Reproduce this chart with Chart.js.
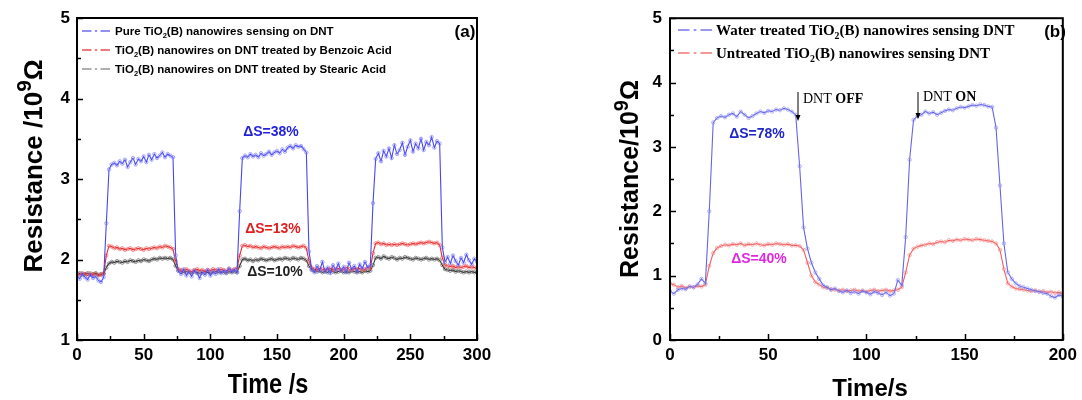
<!DOCTYPE html>
<html>
<head>
<meta charset="utf-8">
<script src="https://cdn.jsdelivr.net/npm/chart.js@4.4.1/dist/chart.umd.min.js"></script>
<style>
  body { margin: 0; background: #fff; }
  canvas { position: absolute; top: 0; }
  #chartA { left: 0; }
  #chartB { left: 560px; }
</style>
</head>
<body>
<canvas id="chartA" width="500" height="400"></canvas>
<canvas id="chartB" width="522" height="400"></canvas>
<script>
// ---- panel (a): time axis, 2 s samples
const timeA = [
  0,2,4,6,8,10,12,14,16,18,20,22,24,26,28,30,32,34,36,38,40,42,44,46,48,
  50,52,54,56,58,60,62,64,66,68,70,72,74,76,78,80,82,84,86,88,90,92,94,96,98,
  100,102,104,106,108,110,112,114,116,118,120,122,124,126,128,130,132,134,136,138,140,142,144,146,148,
  150,152,154,156,158,160,162,164,166,168,170,172,174,176,178,180,182,184,186,188,190,192,194,196,198,
  200,202,204,206,208,210,212,214,216,218,220,222,224,226,228,230,232,234,236,238,240,242,244,246,248,
  250,252,254,256,258,260,262,264,266,268,270,272,274,276,278,280,282,284,286,288,290,292,294,296,298,
  300
];

// pure TiO2(B)
const pureA = [
  1.80,1.76,1.82,1.78,1.75,1.81,1.77,1.79,1.74,1.72,1.78,
  2.45,
  3.12,3.18,3.20,3.17,3.22, 3.19,3.24,3.15,3.21,3.26, 3.18,3.25,3.22,3.28,3.21, 3.30,3.24,3.31,3.26,3.29, 3.33,3.27,3.31,3.29,3.27,
  2.05,
  1.86,1.82,1.88,1.80,1.85, 1.79,1.86,1.83,1.77,1.84, 1.81,1.87,1.80,1.85,1.82, 1.88,1.83,1.86,1.84,1.89, 1.85,1.87,1.84,
  2.60,
  3.26,3.29,3.27,3.31,3.28, 3.30,3.27,3.32,3.29,3.31, 3.34,3.30,3.33,3.35,3.32, 3.37,3.34,3.39,3.41,3.38, 3.42,3.40,3.41,3.37,3.33,
  2.10,
  1.88,1.84,1.92,1.86,1.97, 1.85,1.90,1.83,1.93,1.87, 1.95,1.86,1.91,1.84,1.96, 1.88,1.92,1.85,1.94,1.89, 1.97,1.90,1.93,
  2.70,
  3.25,3.32,3.22,3.35,3.28, 3.38,3.26,3.42,3.31,3.36, 3.45,3.30,3.40,3.48,3.34, 3.44,3.38,3.50,3.36,3.46, 3.42,3.52,3.39,3.47,3.44,
  2.15,
  1.97,2.03,1.95,2.05,1.98, 1.93,2.02,1.96,2.06,1.99, 1.94,2.01,1.97
];

// benzoic acid treated
const benzoicA = [
  1.82,1.81,1.83,1.82,1.80,1.83,1.81,1.82,1.80,1.81,1.83,
  2.05,
  2.17,2.16,2.14,2.15,2.13, 2.14,2.12,2.13,2.14,2.12, 2.13,2.14,2.13,2.12,2.14, 2.13,2.14,2.15,2.14,2.16, 2.15,2.17,2.16,2.15,2.13,
  1.98,
  1.88,1.87,1.86,1.88,1.86, 1.85,1.87,1.88,1.86,1.87, 1.85,1.87,1.86,1.88,1.87, 1.86,1.88,1.87,1.86,1.88, 1.87,1.88,1.89,
  2.05,
  2.17,2.18,2.16,2.17,2.15, 2.16,2.15,2.14,2.16,2.15, 2.14,2.15,2.16,2.15,2.14, 2.16,2.15,2.16,2.15,2.17, 2.16,2.15,2.16,2.17,2.14,
  1.98,
  1.90,1.88,1.87,1.89,1.88, 1.87,1.88,1.89,1.87,1.88, 1.89,1.87,1.88,1.90,1.88, 1.87,1.89,1.88,1.89,1.87, 1.88,1.90,1.89,
  2.08,
  2.20,2.21,2.19,2.20,2.18, 2.19,2.18,2.19,2.18,2.19, 2.20,2.19,2.18,2.19,2.20, 2.19,2.20,2.21,2.20,2.21, 2.22,2.21,2.20,2.21,2.18,
  2.02,
  1.93,1.92,1.91,1.92,1.90, 1.91,1.90,1.91,1.92,1.90, 1.91,1.90,1.89
];

// stearic acid treated
const stearicA = [
  1.82,1.83,1.81,1.82,1.83,1.81,1.82,1.83,1.81,1.82,1.82,
  1.90,
  1.95,1.97,1.96,1.98,1.97, 1.96,1.98,1.97,1.99,1.98, 1.97,1.99,1.98,2.00,1.99, 1.98,2.00,2.01,2.00,2.02, 2.01,2.02,2.01,2.02,2.00,
  1.92,
  1.86,1.85,1.84,1.85,1.84, 1.83,1.85,1.84,1.83,1.84, 1.85,1.84,1.83,1.84,1.85, 1.84,1.85,1.84,1.83,1.85, 1.84,1.85,1.84,
  1.92,
  2.00,2.01,1.99,2.00,1.98, 2.00,1.99,2.01,2.00,1.99, 2.00,2.01,1.99,2.00,2.01, 2.00,2.02,2.01,2.00,2.02, 2.01,2.00,2.02,2.01,1.99,
  1.92,
  1.87,1.86,1.85,1.86,1.84, 1.85,1.84,1.86,1.85,1.84, 1.85,1.86,1.84,1.85,1.84, 1.86,1.85,1.84,1.85,1.84, 1.86,1.85,1.86,
  1.93,
  2.02,2.03,2.01,2.04,2.02, 2.01,2.03,2.02,2.00,2.02, 2.01,2.03,2.02,2.01,2.00, 2.02,2.01,2.00,2.01,2.02, 2.00,2.01,2.00,2.01,1.99,
  1.93,
  1.88,1.87,1.86,1.87,1.85, 1.86,1.85,1.84,1.85,1.84, 1.85,1.84,1.84
];

// ---- panel (b)
const timeB = [
  0,2,4,6,8,10,12,14,16,18,20,22,24,26,28,30,32,34,36,38,40,42,44,46,48,
  50,52,54,56,58,60,62,64,66,68,70,72,74,76,78,80,82,84,86,88,90,92,94,96,98,
  100,102,104,106,108,110,112,114,116,118,120,122,124,126,128,130,132,134,136,138,140,142,144,146,148,
  150,152,154,156,158,160,162,164,166,168,170,172,174,176,178,180,182,184,186,188,190,192,194,196,198,
  200
];

const waterB = [
  0.76,0.72,0.78,0.80,0.79,0.83,0.82,0.86,0.95,
  0.88,
  2.00,3.38,
  3.45,3.48,3.46,3.50,3.52, 3.47,3.55,3.50,3.45,3.48, 3.52,3.55,3.53,3.56,3.55, 3.58,3.57,3.60,3.58,3.55,
  3.50,2.70,1.75,1.42,1.20,1.05,0.95,
  0.85,0.82,0.78,0.80,0.76, 0.74,0.77,0.73,0.75,0.72, 0.76,0.74,0.71,0.75,0.73, 0.70,0.74,0.69,
  0.72,
  0.93,0.85,1.60,2.80,3.42,
  3.48,3.50,3.55,3.52,3.54, 3.50,3.53,3.56,3.58,3.57, 3.60,3.62,3.61,3.63,3.65, 3.64,3.66,3.65,3.63,
  3.62,
  3.30,2.40,1.50,1.05,0.95,0.88,
  0.84,0.82,0.80,0.78,0.76, 0.75,0.73,0.72,0.68,0.66, 0.70,0.68
];

const untreatedB = [
  0.88,0.86,0.82,0.84,0.81,0.83,0.82,0.84,0.83,
  0.86,
  1.15,1.35,
  1.43,1.46,1.48,1.47,1.49, 1.48,1.50,1.47,1.49,1.48, 1.50,1.48,1.47,1.49,1.48, 1.50,1.49,1.48,1.49,1.47,
  1.47,1.46,1.40,1.20,1.00,0.90,0.86,
  0.82,0.81,0.79,0.78,0.77, 0.78,0.76,0.77,0.78,0.76, 0.77,0.75,0.77,0.78,0.76, 0.77,0.78,0.76,
  0.77,
  0.78,0.82,1.05,1.32,1.42,
  1.45,1.47,1.48,1.50,1.49, 1.52,1.53,1.52,1.55,1.54, 1.56,1.55,1.57,1.56,1.55, 1.57,1.56,1.55,1.54,
  1.53,
  1.50,1.40,1.10,0.88,0.83,0.80,
  0.79,0.78,0.77,0.76,0.77, 0.75,0.76,0.74,0.75,0.73, 0.74,0.72
];

const SANS = "'Liberation Sans', Arial, sans-serif";
const SERIF = "'Liberation Serif', 'Times New Roman', serif";
const tickFont = { family: SANS, size: 17, weight: 'bold' };

// draw text made of pieces (sub / sup / own weight), baseline at y
function rich(c, x, y, parts, o) {
  c.save();
  c.translate(x, y);
  c.scale(o.sx || 1, 1);
  c.fillStyle = o.color || '#000';
  c.textBaseline = 'alphabetic';
  c.textAlign = 'left';
  const fontOf = p => {
    let sz = o.size;
    if (p.sub || p.sup) sz = o.size * (p.k || 0.65);
    return (p.w || o.w || 'normal') + ' ' + sz + 'px ' + (o.family || SANS);
  };
  let cx = 0;
  if (o.align === 'center') {
    let tw = 0;
    for (const p of parts) { c.font = fontOf(p); tw += c.measureText(p.t).width; }
    cx = -tw / 2;
  }
  for (const p of parts) {
    c.font = fontOf(p);
    let dy = 0;
    if (p.sub) dy = o.size * 0.28;
    if (p.sup) dy = -o.size * 0.42;
    c.fillText(p.t, cx, dy);
    cx += c.measureText(p.t).width;
  }
  c.restore();
}

// dash-dot legend sample
function sample(c, x1, x2, y, color) {
  const w = x2 - x1;
  c.save();
  c.strokeStyle = color;
  c.lineWidth = 1.3;
  c.beginPath();
  c.moveTo(x1, y); c.lineTo(x1 + w * 0.34, y);
  c.moveTo(x1 + w * 0.46, y); c.lineTo(x1 + w * 0.54, y);
  c.moveTo(x1 + w * 0.66, y); c.lineTo(x2, y);
  c.stroke();
  c.restore();
}

function arrowDown(c, x, y1, y2) {
  c.save();
  c.strokeStyle = '#000'; c.fillStyle = '#000'; c.lineWidth = 1;
  c.beginPath(); c.moveTo(x, y1); c.lineTo(x, y2 - 4); c.stroke();
  c.beginPath(); c.moveTo(x - 2.5, y2 - 6); c.lineTo(x + 2.5, y2 - 6); c.lineTo(x, y2); c.closePath(); c.fill();
  c.restore();
}

// frame + inward ticks + extra texts
function deco(o) {
  return {
    id: 'deco',
    afterDraw(chart) {
      const c = chart.ctx, a = chart.chartArea;
      const xs = chart.scales.x, ys = chart.scales.y;
      c.save();
      c.strokeStyle = '#000';
      c.lineWidth = 1.5;
      c.beginPath();
      for (let v = xs.min; v <= xs.max; v += 25) {
        const px = Math.round(xs.getPixelForValue(v)) + 0.5;
        const len = v % 50 === 0 ? 6 : 4;
        c.moveTo(px, a.bottom); c.lineTo(px, a.bottom - len);
      }
      for (let v = ys.min; v <= ys.max; v += 0.5) {
        const py = Math.round(ys.getPixelForValue(v)) + 0.5;
        const len = v % 1 === 0 ? 6 : 4;
        c.moveTo(a.left, py); c.lineTo(a.left + len, py);
      }
      c.stroke();
      c.lineWidth = 2;
      c.strokeRect(a.left, a.top, a.right - a.left, a.bottom - a.top);
      c.restore();
      o.extra(c, a);
    }
  };
}

function makeChart(id, times, sets, o) {
  return new Chart(document.getElementById(id), {
    type: 'line',
    data: {
      datasets: sets.map(s => ({
        data: times.map((t, i) => ({ x: t, y: s.values[i] })),
        borderColor: s.line,
        borderWidth: 1.1,
        pointRadius: 1.7,
        pointBorderWidth: 0.8,
        pointBorderColor: s.mark,
        pointBackgroundColor: 'rgba(255,255,255,0)',
        tension: 0
      }))
    },
    options: {
      responsive: false,
      animation: false,
      layout: { padding: { top: 18, right: o.padRight, left: 0, bottom: 0 } },
      plugins: { legend: { display: false }, tooltip: { enabled: false } },
      scales: {
        x: {
          type: 'linear', min: 0, max: o.xMax,
          grid: { display: false, drawTicks: false },
          border: { display: false },
          ticks: { stepSize: 50, padding: 5, color: '#000', font: tickFont },
          afterFit: s => { s.height = 60; }
        },
        y: {
          min: o.yMin, max: 5,
          grid: { display: false, drawTicks: false },
          border: { display: false },
          ticks: { stepSize: 1, padding: o.yPad, color: '#000', font: tickFont },
          afterFit: s => { s.width = o.yWidth; }
        }
      }
    },
    plugins: [deco(o)]
  });
}

const TIO = [{ t: 'TiO' }, { t: '2', sub: true }, { t: '(B) ' }];

makeChart('chartA', timeA, [
  { values: pureA, line: 'rgb(70,70,245)', mark: 'rgba(120,120,250,0.8)' },
  { values: benzoicA, line: 'rgb(230,40,40)', mark: 'rgba(240,90,90,0.8)' },
  { values: stearicA, line: 'rgb(50,50,50)', mark: 'rgba(90,90,90,0.8)' }
], {
  xMax: 300, yMin: 1, yWidth: 77, yPad: 7, padRight: 23,
  extra: (c, a) => {
    const lo = { size: 11.5, w: 'bold', family: SANS };
    sample(c, 82, 110, 31, 'rgb(110,110,240)');
    rich(c, 115, 35, [{ t: 'Pure ' }, ...TIO, { t: 'nanowires sensing on DNT' }], lo);
    sample(c, 82, 110, 50, 'rgb(230,80,80)');
    rich(c, 115, 54, [...TIO, { t: 'nanowires on DNT treated by Benzoic Acid' }], lo);
    sample(c, 82, 110, 69, 'rgb(150,150,150)');
    rich(c, 115, 73, [...TIO, { t: 'nanowires on DNT treated by Stearic Acid' }], lo);
    rich(c, 465, 37, [{ t: '(a)' }], { size: 17, w: 'bold', align: 'center' });

    rich(c, 271, 136, [{ t: 'ΔS=38%' }], { size: 14, w: 'bold', align: 'center', color: 'rgb(35,35,220)' });
    rich(c, 273, 233, [{ t: 'ΔS=13%' }], { size: 14, w: 'bold', align: 'center', color: 'rgb(225,30,30)' });
    rich(c, 275, 276, [{ t: 'ΔS=10%' }], { size: 14, w: 'bold', align: 'center', color: '#222' });

    rich(c, 268, 393, [{ t: 'Time /s' }], { size: 27, w: 'bold', align: 'center', sx: 0.87 });
    c.save();
    c.translate(42, 166);
    c.rotate(-Math.PI / 2);
    rich(c, 0, 0, [{ t: 'Resistance /10' }, { t: '9', sup: true, k: 0.8 }, { t: 'Ω' }], { size: 26, w: 'bold', align: 'center' });
    c.restore();
  }
});

makeChart('chartB', timeB, [
  { values: waterB, line: 'rgb(100,100,235)', mark: 'rgba(140,140,240,0.8)' },
  { values: untreatedB, line: 'rgb(240,95,95)', mark: 'rgba(245,130,130,0.8)' }
], {
  xMax: 200, yMin: 0, yWidth: 110, yPad: 8, padRight: 15,
  extra: (c, a) => {
    const lo = { size: 15, w: 'bold', family: SERIF };
    sample(c, 118, 152, 30, 'rgb(120,120,230)');
    rich(c, 156, 35, [{ t: 'Water treated ' }, ...TIO, { t: 'nanowires sensing DNT' }], lo);
    sample(c, 118, 152, 53, 'rgb(240,120,120)');
    rich(c, 156, 58, [{ t: 'Untreated ' }, ...TIO, { t: 'nanowires sensing DNT' }], lo);
    rich(c, 495, 37, [{ t: '(b)' }], { size: 17, w: 'bold', align: 'center' });

    rich(c, 197, 138, [{ t: 'ΔS=78%' }], { size: 14, w: 'bold', align: 'center', color: 'rgb(30,40,200)' });
    rich(c, 199, 263, [{ t: 'ΔS=40%' }], { size: 14, w: 'bold', align: 'center', color: 'rgb(225,40,225)' });

    arrowDown(c, 238, 92, 121);
    rich(c, 243, 103, [{ t: 'DNT ' }, { t: 'OFF', w: 'bold' }], { size: 14, family: SERIF });
    arrowDown(c, 358, 92, 119);
    rich(c, 363, 101, [{ t: 'DNT ' }, { t: 'ON', w: 'bold' }], { size: 14, family: SERIF });

    rich(c, 310, 396, [{ t: 'Time/s' }], { size: 24, w: 'bold', align: 'center' });
    c.save();
    c.translate(78, 179);
    c.rotate(-Math.PI / 2);
    rich(c, 0, 0, [{ t: 'Resistance/10' }, { t: '9', sup: true, k: 0.8 }, { t: 'Ω' }], { size: 25, w: 'bold', align: 'center' });
    c.restore();
  }
});
</script>
</body>
</html>
